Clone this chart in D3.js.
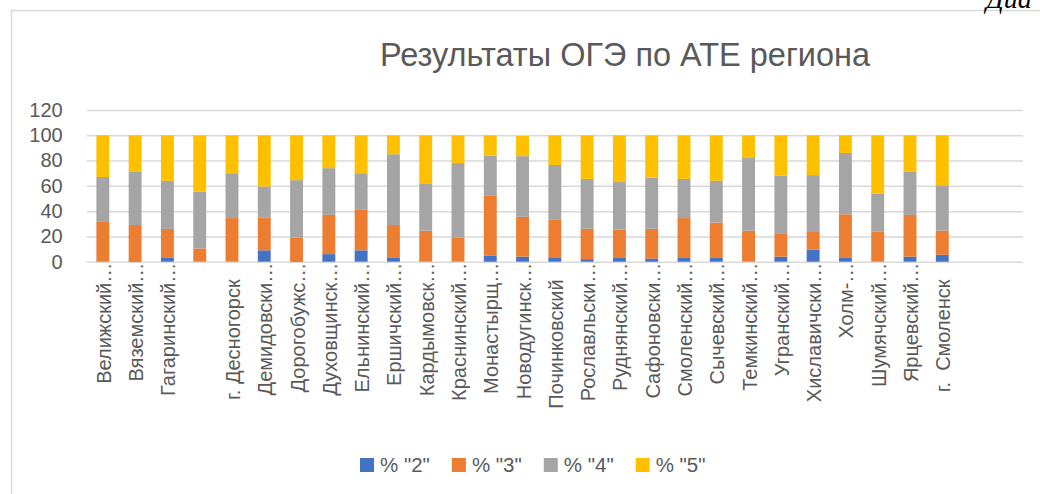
<!DOCTYPE html>
<html>
<head>
<meta charset="utf-8">
<script src="https://cdn.jsdelivr.net/npm/d3@7"></script>
<style>
  body { margin: 0; background: #fff; }
  svg { display: block; font-family: "Liberation Sans", Arial, sans-serif; }
</style>
</head>
<body>
<script>
/////////////////////////////////////////////////
// data /////////////////////////////////////////
/////////////////////////////////////////////////

// labels as Excel shows them (truncated ones end with "…", the others carry trailing spaces)
const categories = [
  "Велижский…", "Вяземский…", "Гагаринский…", "", "г. Десногорск   ",
  "Демидовски…", "Дорогобужс…", "Духовщинск…", "Ельнинский…", "Ершичский…",
  "Кардымовск…", "Краснинский…", "Монастырщ…", "Новодугинск…", "Починковский   ",
  "Рославльски…", "Руднянский…", "Сафоновски…", "Смоленский…", "Сычевский…",
  "Темкинский…", "Угранский…", "Хиславичски…", "Холм-…", "Шумячский…",
  "Ярцевский…", "г.  Смоленск   "
];
const slotCount = 29; // category axis keeps two empty slots at the end

const p2 = [0, 0.5, 3, 0, 0, 9, 0.5, 6, 9, 3, 0, 0, 5, 4, 3.5, 2, 3, 2.5, 3, 3, 0, 4, 9.5, 3, 0, 4, 5.5];
const p3 = [32, 28.5, 23, 10.5, 34.5, 26, 18.5, 31, 32, 26, 24.5, 19, 47.5, 31.5, 30, 24, 22.5, 23.5, 31.5, 28, 24.5, 18, 14, 34.5, 24, 33, 19];
const p4 = [35, 42.5, 38, 45, 35.5, 24.5, 45.5, 37, 29, 56, 37.5, 59, 31.5, 48, 43, 39.5, 37.5, 40.5, 31, 33, 57.5, 46, 45, 48.5, 30, 34, 36];
const p5 = [33, 28.5, 36, 44.5, 30, 40.5, 35.5, 26, 30, 15, 38, 22, 16, 16, 23.5, 34.5, 37, 33.5, 34.5, 36, 18, 32, 31.5, 14, 46, 29, 39.5];

const seriesNames = ['% "2"', '% "3"', '% "4"', '% "5"'];
const yTicks = [0, 20, 40, 60, 80, 100, 120];
const title = "Результаты ОГЭ по АТЕ региона";

/////////////////////////////////////////////////
// setup ////////////////////////////////////////
/////////////////////////////////////////////////

const width = 1040, height = 494;
const margin = { left: 86.7, right: 17, top: 110, bottom: 232.3 };

const svg = d3.select("body").append("svg")
  .attr("width", width)
  .attr("height", height);

// chart area frame (runs off the page at right / bottom)
svg.append("rect")
  .attr("x", 11.5).attr("y", 10.5)
  .attr("width", 1100).attr("height", 600)
  .attr("fill", "#fff")
  .attr("stroke", "#d9d9d9")
  .attr("stroke-width", 1.5);

// bit of the document caption peeking in at the top right
svg.append("text")
  .attr("x", 986).attr("y", 8)
  .attr("font-family", "Liberation Serif, serif")
  .attr("font-style", "italic")
  .attr("font-size", 28)
  .attr("fill", "#000")
  .text("Диа");

/////////////////////////////////////////////////
// scales ///////////////////////////////////////
/////////////////////////////////////////////////

const x = d3.scaleBand()
  .domain(d3.range(slotCount))
  .range([margin.left, width - margin.right])
  .paddingInner(0.6)
  .paddingOuter(0.3);

const y = d3.scaleLinear()
  .domain([0, 120])
  .range([height - margin.bottom, margin.top]);

const col = d3.scaleOrdinal()
  .domain(seriesNames)
  .range(["#4472C4", "#ED7D31", "#A5A5A5", "#FFC000"]);

/////////////////////////////////////////////////
// title ////////////////////////////////////////
/////////////////////////////////////////////////

svg.append("text")
  .attr("x", 625).attr("y", 66)
  .attr("text-anchor", "middle")
  .attr("font-size", 32.5)
  .attr("fill", "#595959")
  .text(title);

/////////////////////////////////////////////////
// axes /////////////////////////////////////////
/////////////////////////////////////////////////

const yAxis = svg.append("g")
  .attr("transform", `translate(${margin.left},0)`)
  .call(d3.axisLeft(y).tickValues(yTicks).tickSize(-(width - margin.right - margin.left)).tickPadding(24));

yAxis.select(".domain").remove();
yAxis.selectAll(".tick line").attr("stroke", "#d9d9d9").attr("stroke-width", 1.5);
yAxis.selectAll(".tick text")
  .attr("fill", "#595959")
  .attr("font-size", 20)
  .attr("font-family", "Liberation Sans, Arial, sans-serif");

/////////////////////////////////////////////////
// bars /////////////////////////////////////////
/////////////////////////////////////////////////

const rows = categories.map((c, i) => ({
  i: i,
  [seriesNames[0]]: p2[i],
  [seriesNames[1]]: p3[i],
  [seriesNames[2]]: p4[i],
  [seriesNames[3]]: p5[i]
}));

const stacked = d3.stack().keys(seriesNames)(rows);

svg.append("g")
  .selectAll("g")
  .data(stacked)
  .join("g")
  .attr("fill", (d) => col(d.key))
  .selectAll("rect")
  .data((d) => d)
  .join("rect")
  .attr("x", (d) => x(d.data.i))
  .attr("width", x.bandwidth())
  .attr("y", (d) => y(d[1]))
  .attr("height", (d) => y(d[0]) - y(d[1]));

// category labels, rotated
svg.append("g")
  .selectAll("text")
  .data(categories)
  .join("text")
  .attr("transform", (d, i) => `translate(${x(i) + x.bandwidth() / 2},${y(0) + 1}) rotate(-90)`)
  .attr("text-anchor", "end")
  .attr("dy", "0.4em")
  .attr("font-size", 20)
  .attr("fill", "#595959")
  .style("white-space", "pre")
  .text((d) => d);

/////////////////////////////////////////////////
// legend ///////////////////////////////////////
/////////////////////////////////////////////////

const legend = svg.append("g").attr("transform", "translate(360,458)");
let lx = 0;
seriesNames.forEach((name) => {
  const item = legend.append("g").attr("transform", `translate(${lx},0)`);
  item.append("rect")
    .attr("width", 14).attr("height", 14)
    .attr("fill", col(name));
  const t = item.append("text")
    .attr("x", 20).attr("y", 7)
    .attr("dy", "0.36em")
    .attr("font-size", 20.5)
    .attr("fill", "#595959")
    .text(name);
  lx += 20 + t.node().getComputedTextLength() + 22;
});
</script>
</body>
</html>
